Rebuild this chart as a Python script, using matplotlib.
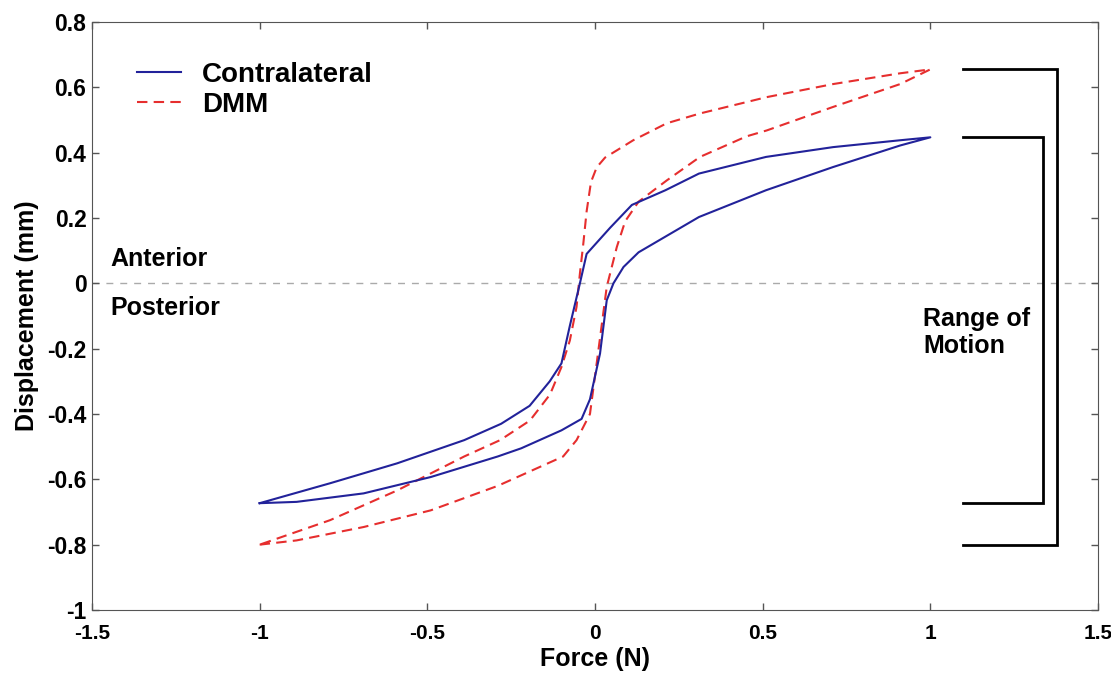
import numpy as np
import matplotlib.pyplot as plt

plt.rcParams['font.family'] = ['Liberation Sans', 'DejaVu Sans']
plt.rcParams['font.weight'] = 'bold'

# hysteresis loops (force N, displacement mm)
contra_x = [-1.0, -0.89, -0.69, -0.49, -0.29, -0.22, -0.10, -0.04, -0.015, 0.015, 0.035, 0.055,
            0.085, 0.13, 0.31, 0.51, 0.71, 0.91, 1.0,
            0.91, 0.71, 0.51, 0.31, 0.21, 0.11, 0.045, -0.025, -0.045, -0.075, -0.10, -0.135,
            -0.195, -0.28, -0.39, -0.59, -0.79, -1.0]
contra_y = [-0.673, -0.669, -0.643, -0.593, -0.53, -0.505, -0.45, -0.415, -0.355, -0.215, -0.052, 0.0,
            0.05, 0.095, 0.203, 0.285, 0.356, 0.422, 0.447,
            0.438, 0.417, 0.387, 0.336, 0.285, 0.24, 0.17, 0.09, 0.0, -0.13, -0.245, -0.30,
            -0.375, -0.43, -0.48, -0.551, -0.612, -0.673]

dmm_x = [-1.0, -0.89, -0.69, -0.49, -0.29, -0.095, -0.055, -0.015, 0.005, 0.035, 0.065, 0.09, 0.13,
         0.214, 0.313, 0.452, 0.512, 0.71, 0.91, 1.0,
         0.91, 0.71, 0.512, 0.313, 0.214, 0.114, 0.065, 0.03, 0.005, -0.012, -0.025, -0.035, -0.045,
         -0.055, -0.075, -0.10, -0.134, -0.194, -0.283, -0.39, -0.59, -0.79, -1.0]
dmm_y = [-0.80, -0.787, -0.746, -0.695, -0.62, -0.53, -0.48, -0.40, -0.245, -0.011, 0.111, 0.19, 0.25,
         0.315, 0.387, 0.45, 0.468, 0.54, 0.61, 0.655,
         0.643, 0.61, 0.57, 0.52, 0.49, 0.438, 0.407, 0.385, 0.355, 0.31, 0.22, 0.12, 0.03,
         -0.072, -0.175, -0.256, -0.34, -0.42, -0.48, -0.53, -0.634, -0.725, -0.80]

# range-of-motion brackets: (bottom, top, x of vertical bar)
rom_contra = (-0.673, 0.447, 1.336)
rom_dmm = (-0.80, 0.655, 1.378)

fig = plt.figure(figsize=(11.11, 6.75), dpi=100)
ax = fig.add_axes([0.0828, 0.0963, 0.9055, 0.8711])

ax.axhline(0, color='#aaaaaa', lw=1, dashes=(5, 5), zorder=1)
ax.plot(contra_x, contra_y, color='#22229a', lw=1.5, label='Contralateral', zorder=3)
ax.plot(dmm_x, dmm_y, color='#e62e2e', lw=1.5, dashes=(5, 3), label='DMM', zorder=2)

x0 = 1.097
for lo, hi, xb in (rom_contra, rom_dmm):
    ax.plot([x0, xb, xb, x0], [hi, hi, lo, lo], color='black', lw=2, solid_joinstyle='miter')

ax.text(-1.445, 0.073, 'Anterior', fontsize=18, va='center', ha='left')
ax.text(-1.445, -0.077, 'Posterior', fontsize=18, va='center', ha='left')
ax.text(0.978, -0.15, 'Range of\nMotion', fontsize=18, va='center', ha='left', linespacing=1.15)

ax.set_xlim(-1.5, 1.5)
ax.set_ylim(-1, 0.8)
ax.set_xticks([-1.5, -1, -0.5, 0, 0.5, 1, 1.5], labels=['-1.5', '-1', '-0.5', '0', '0.5', '1', '1.5'])
ax.set_yticks(np.arange(-1, 0.81, 0.2),
              labels=['-1', '-0.8', '-0.6', '-0.4', '-0.2', '0', '0.2', '0.4', '0.6', '0.8'])
ax.tick_params(direction='in', top=True, right=True, length=5, color='#555555', width=1)
ax.tick_params(axis='x', labelsize=15, pad=10)
ax.tick_params(axis='y', labelsize=16.5, pad=4)
for s in ax.spines.values():
    s.set_color('#555555')

ax.set_xlabel('Force (N)', fontsize=18, fontweight='bold', labelpad=3)
ax.set_ylabel('Displacement (mm)', fontsize=18, fontweight='bold', labelpad=6)

ax.legend(loc='upper left', bbox_to_anchor=(0.0447, 0.932), frameon=False, fontsize=20,
          handlelength=1.6, handletextpad=0.75, labelspacing=0.15, borderpad=0, borderaxespad=0)

fig.savefig('out.png', dpi=100)
